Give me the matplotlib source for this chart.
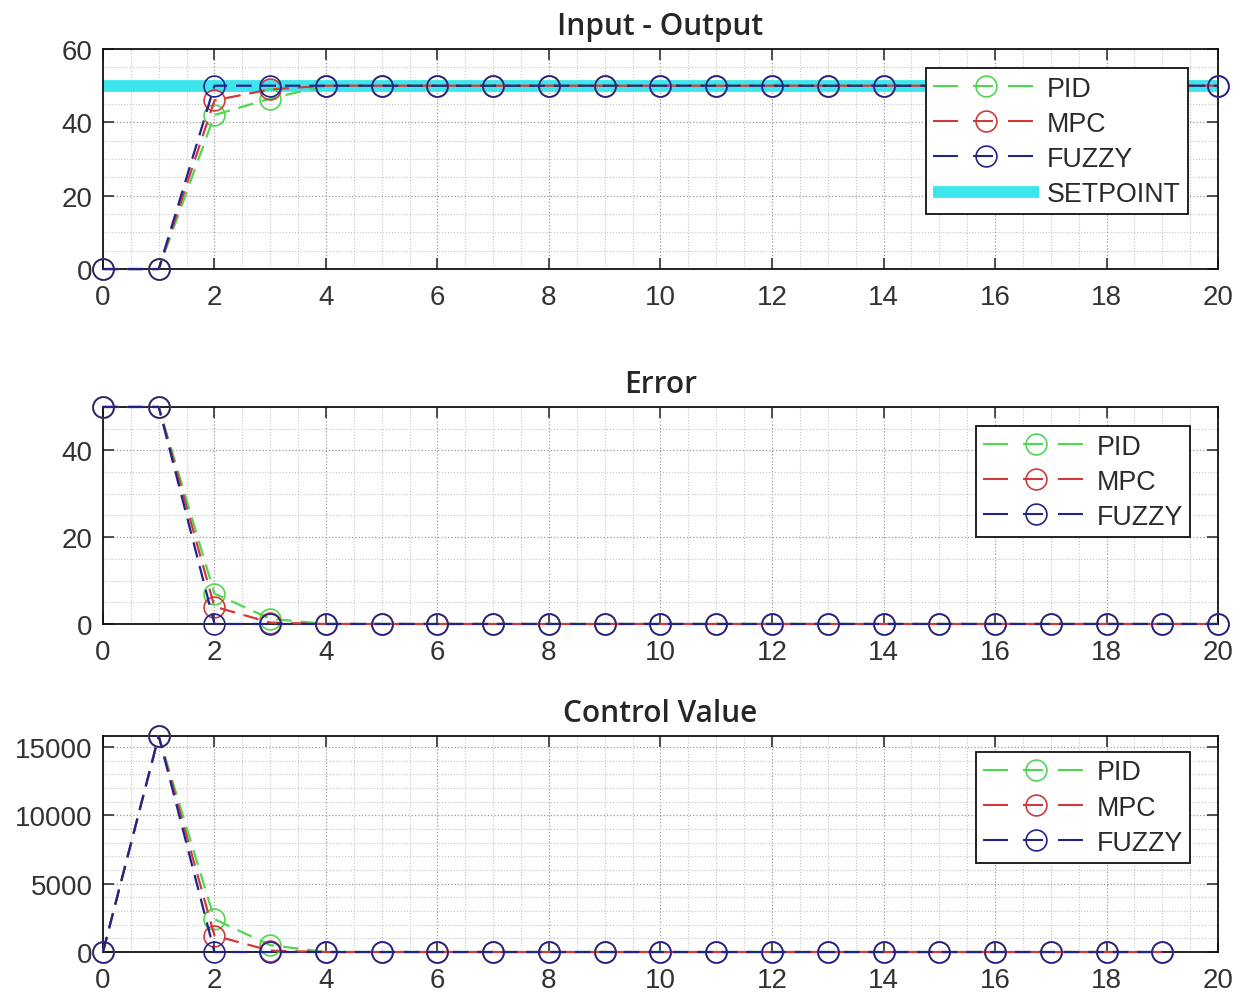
import matplotlib
matplotlib.use("Agg")
import matplotlib.pyplot as plt
from matplotlib.ticker import MultipleLocator
from matplotlib.lines import Line2D

# ---- data ----
steps_out = list(range(0, 21))
pid_out = [0, 0, 42, 46.5] + [50] * 17
mpc_out = [0, 0, 46, 49] + [50] * 17
fuzzy_out = [0, 0] + [50] * 19
setpoint = [50] * 21

steps_err = list(range(0, 21))
pid_err = [50, 50, 7, 1.2] + [0] * 17
mpc_err = [50, 50, 4, 0.3] + [0] * 17
fuzzy_err = [50, 50] + [0] * 19

steps_ctl = list(range(0, 20))
pid_ctl = [0, 15800, 2400, 500] + [0] * 16
mpc_ctl = [0, 15800, 1200, 100] + [0] * 16
fuzzy_ctl = [0, 15800] + [0] * 18

titles = ["Input - Output", "Error", "Control Value"]
labels = ["PID", "MPC", "FUZZY"]

# ---- style ----
plt.rcParams['font.family'] = ['Liberation Sans', 'DejaVu Sans']
c_pid = '#4fd84f'
c_mpc = '#d23a3a'
c_fuz = '#23238c'
c_sp = '#3de6ec'
colors = [c_pid, c_mpc, c_fuz]

fig = plt.figure(figsize=(12.42, 9.95), dpi=100)
L, W = 0.0829, 0.8978
ax1 = fig.add_axes([L, 0.7286, W, 0.2211])
ax2 = fig.add_axes([L, 0.3719, W, 0.2181])
ax3 = fig.add_axes([L, 0.0422, W, 0.2171])

def style(ax, ymajor, yminor, ylim):
    ax.set_xlim(0, 20)
    ax.set_ylim(*ylim)
    ax.xaxis.set_major_locator(MultipleLocator(2))
    ax.xaxis.set_minor_locator(MultipleLocator(0.5))
    ax.yaxis.set_major_locator(MultipleLocator(ymajor))
    ax.yaxis.set_minor_locator(MultipleLocator(yminor))
    ax.grid(True, which='major', linestyle=':', color='#9a9a9a', linewidth=0.9)
    ax.grid(True, which='minor', linestyle=':', color='#c4c4c4', linewidth=0.8)
    ax.set_axisbelow(True)
    ax.tick_params(which='major', direction='in', length=8, width=1.2,
                   top=True, right=True, labelsize=20, colors='#333333')
    ax.tick_params(axis='x', which='major', pad=11)
    ax.tick_params(axis='y', which='major', pad=7.5)
    ax.tick_params(which='minor', length=0, top=True, right=True)
    for s in ax.spines.values():
        s.set_linewidth(1.3)
        s.set_color('#111111')

def series(ax, x, ys):
    for y, c, lab in zip(ys, colors, labels):
        ax.plot(x, y, linestyle='--', dashes=(7, 4), color=c, linewidth=1.6,
                marker='o', markersize=15, markerfacecolor='none',
                markeredgecolor=c, markeredgewidth=1.2, label=lab, zorder=3,
                clip_on=False)

def proxies():
    return [Line2D([], [], color=c, linewidth=1.5, dashes=(12, 7.2, 9.6, 7.2),
                   marker='o', markersize=15, markerfacecolor='none',
                   markeredgecolor=c, markeredgewidth=1.2) for c in colors]

LEGKW = dict(loc='upper right', borderaxespad=0, fontsize=19.3,
             handlelength=3.92, labelspacing=0.34, handletextpad=0.3,
             borderpad=0.28, fancybox=False, framealpha=1, edgecolor='#111111')

def finish_legend(leg):
    leg.get_frame().set_linewidth(1.3)
    leg.set_zorder(5)
    for t in leg.get_texts():
        t.set_color('#2a2a2a')

tfont = dict(family=['Open Sans', 'DejaVu Sans'], fontsize=21.5, fontweight='semibold',
             color='#262626')

# top
style(ax1, 20, 5, (0, 60))
ax1.plot(steps_out, setpoint, color=c_sp, linewidth=8.5, label='SETPOINT',
         zorder=2, solid_capstyle='butt')
series(ax1, steps_out, [pid_out, mpc_out, fuzzy_out])
sp_proxy = Line2D([], [], color=c_sp, linewidth=8.5, solid_capstyle='butt')
leg = ax1.legend(proxies() + [sp_proxy], labels + ['SETPOINT'],
                 bbox_to_anchor=(0.973, 0.9136), **LEGKW)
finish_legend(leg)
ax1.set_title(titles[0], pad=10.5, **tfont)

# error
style(ax2, 20, 5, (0, 50))
series(ax2, steps_err, [pid_err, mpc_err, fuzzy_err])
finish_legend(ax2.legend(proxies(), labels, bbox_to_anchor=(0.975, 0.912), **LEGKW))
ax2.set_title(titles[1], pad=10.5, **tfont)

# control
style(ax3, 5000, 1000, (0, 15800))
series(ax3, steps_ctl, [pid_ctl, mpc_ctl, fuzzy_ctl])
finish_legend(ax3.legend(proxies(), labels, bbox_to_anchor=(0.975, 0.926), **LEGKW))
ax3.set_title(titles[2], pad=10.5, **tfont)

fig.savefig('out.png', dpi=100)
